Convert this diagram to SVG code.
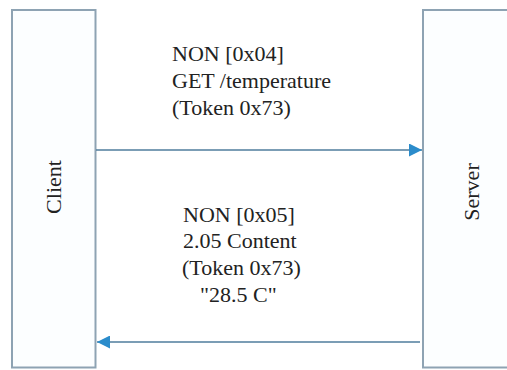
<svg xmlns="http://www.w3.org/2000/svg" width="507" height="370" viewBox="0 0 507 370">
<defs>
<style>
.box{fill:#fcfeff;stroke:#8ea3b3;stroke-width:2}
.lbl{font-family:"Liberation Serif","Times New Roman",serif;font-size:22px;fill:#222}
.conn{stroke:#4f7d9c;stroke-width:1.5;fill:none}
</style>
<marker id="ah" viewBox="0 0 10 10" refX="10" refY="5" markerWidth="15" markerHeight="13" markerUnits="userSpaceOnUse" orient="auto">
<path d="M0,0 L10,5 L0,10 z" fill="#2b8ccb"/>
</marker>
</defs>
<rect width="507" height="370" fill="#ffffff"/>
<g id="client">
<rect class="box" x="12" y="10" width="83.5" height="357.5"/>
<text class="lbl" transform="translate(61,187) rotate(-90)" text-anchor="middle">Client</text>
</g>
<g id="server">
<rect class="box" x="423" y="10" width="100" height="357.5"/>
<text class="lbl" transform="translate(479,192) rotate(-90)" text-anchor="middle">Server</text>
</g>
<g id="connectors">
<line class="conn" x1="96" y1="150" x2="422" y2="150" marker-end="url(#ah)"/>
<line class="conn" x1="420" y1="342" x2="97" y2="342" marker-end="url(#ah)"/>
</g>
<g id="labels">
<text class="lbl" x="172" y="61">NON [0x04]</text>
<text class="lbl" x="172" y="88">GET /temperature</text>
<text class="lbl" x="172" y="115">(Token 0x73)</text>
<text class="lbl" x="183" y="222">NON [0x05]</text>
<text class="lbl" x="183" y="248">2.05 Content</text>
<text class="lbl" x="182" y="275">(Token 0x73)</text>
<text class="lbl" x="200" y="302">"28.5 C"</text>
</g>
</svg>
